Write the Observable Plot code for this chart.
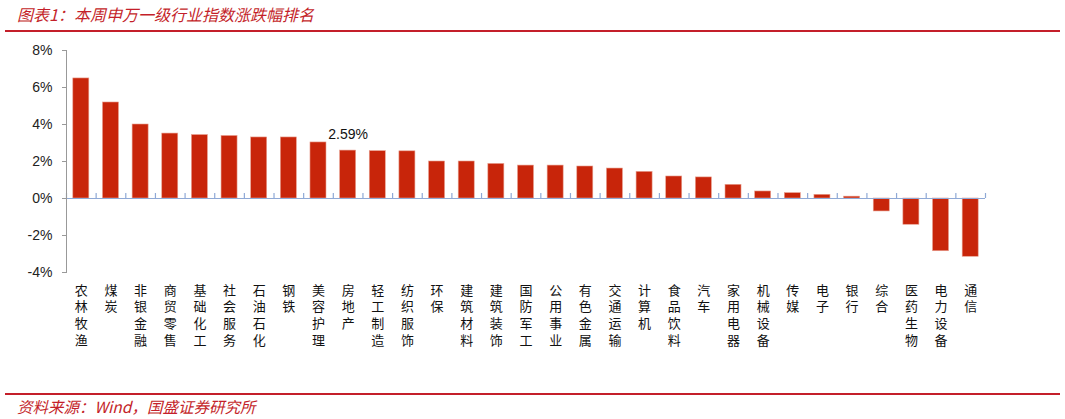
<!DOCTYPE html>
<html>
<head>
<meta charset="utf-8">
<script src="https://cdn.jsdelivr.net/npm/d3@7"></script>
<script src="https://cdn.jsdelivr.net/npm/@observablehq/plot@0.6"></script>
<style>
  html, body { margin: 0; padding: 0; background: #fff; }
  #wrap { position: relative; width: 1065px; height: 419px; overflow: hidden; }
  #title { position: absolute; left: 17px; top: 2px; font: italic 16px "Noto Sans CJK SC", sans-serif; color: #C41F2A; }
  #topline { position: absolute; left: 5px; width: 1055px; top: 30px; height: 2px; background: #C41F2A; }
  #chart { position: absolute; left: 0; top: 32px; }
  #botline { position: absolute; left: 5px; width: 1055px; top: 393px; height: 2px; background: #C41F2A; }
  #source { position: absolute; left: 17px; top: 395px; font: italic 15.5px "Noto Sans CJK SC", sans-serif; color: #C41F2A; }
</style>
</head>
<body>
<div id="wrap">
  <div id="title">图表1：本周申万一级行业指数涨跌幅排名</div>
  <div id="topline"></div>
  <div id="chart"></div>
  <div id="botline"></div>
  <div id="source">资料来源：Wind，国盛证券研究所</div>
</div>
<script>
const categories = ["农林牧渔","煤炭","非银金融","商贸零售","基础化工","社会服务","石油石化","钢铁","美容护理","房地产","轻工制造","纺织服饰","环保","建筑材料","建筑装饰","国防军工","公用事业","有色金属","交通运输","计算机","食品饮料","汽车","家用电器","机械设备","传媒","电子","银行","综合","医药生物","电力设备","通信"];
const values = [6.49, 5.19, 4.00, 3.51, 3.43, 3.38, 3.30, 3.30, 3.03, 2.59, 2.56, 2.55, 2.00, 2.00, 1.87, 1.78, 1.78, 1.73, 1.62, 1.44, 1.19, 1.14, 0.74, 0.38, 0.29, 0.20, 0.10, -0.70, -1.42, -2.85, -3.15];
const yTicks = [-4, -2, 0, 2, 4, 6, 8];
const labelled = ["房地产"];

const data = categories.map((name, i) => ({name, value: values[i]}));
const W = 1065, H = 360, mL = 66, mR = 80, mT = 18, mB = 120;
const step = (W - mL - mR) / categories.length;

const chart = Plot.plot({
  width: W, height: H,
  marginLeft: mL, marginRight: mR, marginTop: mT, marginBottom: mB,
  style: {fontFamily: "'Liberation Sans', Arial, sans-serif", fontSize: "14px", color: "#222", background: "#fff"},
  x: {domain: categories, paddingInner: 0.46, paddingOuter: 0.23, align: 0.5, round: false, label: null},
  y: {domain: [-4, 8], label: null},
  marks: [
    Plot.barY(data, {x: "name", y: "value", fill: "#C8250A", stroke: "#E8A090", strokeWidth: 0.6}),
    Plot.ruleY([0], {stroke: "#8FA9D6", strokeWidth: 1.2}),
    Plot.ruleX(categories, {x: d => d, y1: 0, y2: 0, insetTop: -5, dx: -step / 2, stroke: "#8FA9D6", strokeWidth: 1.2}),
    Plot.ruleX(categories.slice(-1), {x: d => d, y1: 0, y2: 0, insetTop: -5, dx: step / 2, stroke: "#8FA9D6", strokeWidth: 1.2}),
    Plot.frame({anchor: "left", stroke: "#999"}),
    Plot.axisY({ticks: yTicks, tickFormat: d => d + "%", tickSize: 4, tickPadding: 10, stroke: "#999", fill: "#222", fontSize: 14, label: null}),
    Plot.axisX({tickSize: 0, tickPadding: 10, lineAnchor: "top", lineHeight: 1.3, label: null,
      tickFormat: d => d.split("").join("\n"),
      fontFamily: "'Noto Sans CJK SC', sans-serif", fontSize: 13, fill: "#111"}),
    Plot.text(data.filter(d => labelled.includes(d.name)), {x: "name", y: "value", text: d => d.value.toFixed(2) + "%", dy: -16, fontSize: 14, fill: "#111"})
  ]
});
document.getElementById("chart").appendChild(chart);
</script>
</body>
</html>
